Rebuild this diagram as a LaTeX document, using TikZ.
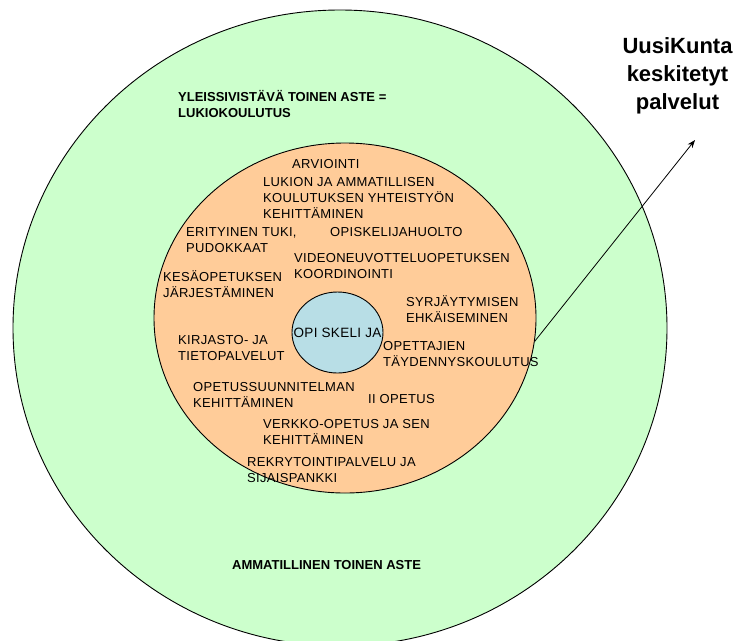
\documentclass[tikz,border=0pt]{standalone}
\usepackage{fontspec}
\setmainfont{Liberation Sans}
\newfontfamily\wideface[LetterSpace=2.5]{Liberation Sans}
\usetikzlibrary{shapes.geometric,arrows.meta}
\definecolor{outergreen}{HTML}{CCFFCC}
\definecolor{innerorange}{HTML}{FFCC99}
\definecolor{coreblue}{HTML}{B8DEE6}
\begin{document}
\begin{tikzpicture}[x=1pt,y=-1pt,
  ring/.style={ellipse,draw=black,line width=0.9pt,inner sep=0pt},
  lbl/.style={anchor=north west,inner sep=0pt,align=left,font=\wideface\fontsize{13}{16}\selectfont},
  blbl/.style={anchor=north west,inner sep=0pt,align=left,font=\fontsize{13}{16}\selectfont\bfseries},
  title/.style={anchor=north,inner sep=0pt,align=center,font=\fontsize{22}{28}\selectfont\bfseries},
  pointer/.style={-{Stealth[length=8pt,width=6pt]},line width=0.8pt}
]
\useasboundingbox (0,0) rectangle (746,640);
\begin{scope}
\clip (0,0) rectangle (746,640);
\node[ring,fill=outergreen,minimum width=654pt,minimum height=636pt] (outer) at (340,328) {};
\end{scope}
\node[ring,fill=innerorange,minimum width=382pt,minimum height=350pt] (inner) at (345,318) {};
\node[ring,fill=coreblue,minimum width=91pt,minimum height=81pt] (core) at (337.5,332.5) {};
\node[inner sep=0pt,font=\wideface\fontsize{13.5}{16}\selectfont] (opiskelija) at (core.center) {OPI SKELI JA};

\node[blbl] (lukio) at (178,90.5) {\strut YLEISSIVISTÄVÄ TOINEN ASTE =\\LUKIOKOULUTUS};
\node[blbl] (ammat) at (232,558.5) {\strut AMMATILLINEN TOINEN ASTE};

\node[lbl] (arvi) at (292,157.5) {\strut ARVIOINTI};
\node[lbl] (yhteis) at (263,175.5) {\strut LUKION JA AMMATILLISEN\\KOULUTUKSEN YHTEISTYÖN\\KEHITTÄMINEN};
\node[lbl] (erit) at (186,225.5) {\strut ERITYINEN TUKI,\\PUDOKKAAT};
\node[lbl] (huolto) at (330,225.5) {\strut OPISKELIJAHUOLTO};
\node[lbl] (video) at (294,251.5) {\strut VIDEONEUVOTTELUOPETUKSEN\\KOORDINOINTI};
\node[lbl] (kesa) at (163,270.5) {\strut KESÄOPETUKSEN\\JÄRJESTÄMINEN};
\node[lbl] (syrj) at (406,295.5) {\strut SYRJÄYTYMISEN\\EHKÄISEMINEN};
\node[lbl] (kirj) at (178,333.5) {\strut KIRJASTO- JA\\TIETOPALVELUT};
\node[lbl] (opett) at (383,339.5) {\strut OPETTAJIEN\\TÄYDENNYSKOULUTUS};
\node[lbl] (ops) at (193,380.5) {\strut OPETUSSUUNNITELMAN\\KEHITTÄMINEN};
\node[lbl] (ii) at (368,392.5) {\strut II OPETUS};
\node[lbl] (verkko) at (263,417.5) {\strut VERKKO-OPETUS JA SEN\\KEHITTÄMINEN};
\node[lbl] (rekry) at (247,455.5) {\strut REKRYTOINTIPALVELU JA\\SIJAISPANKKI};

\node[title] (uusi) at (677.5,33.4) {\strut UusiKunta\\keskitetyt\\palvelut};
\coordinate (tip) at (695,140);
\draw[pointer] (inner.-7.6) -- (tip);
\end{tikzpicture}
\end{document}
